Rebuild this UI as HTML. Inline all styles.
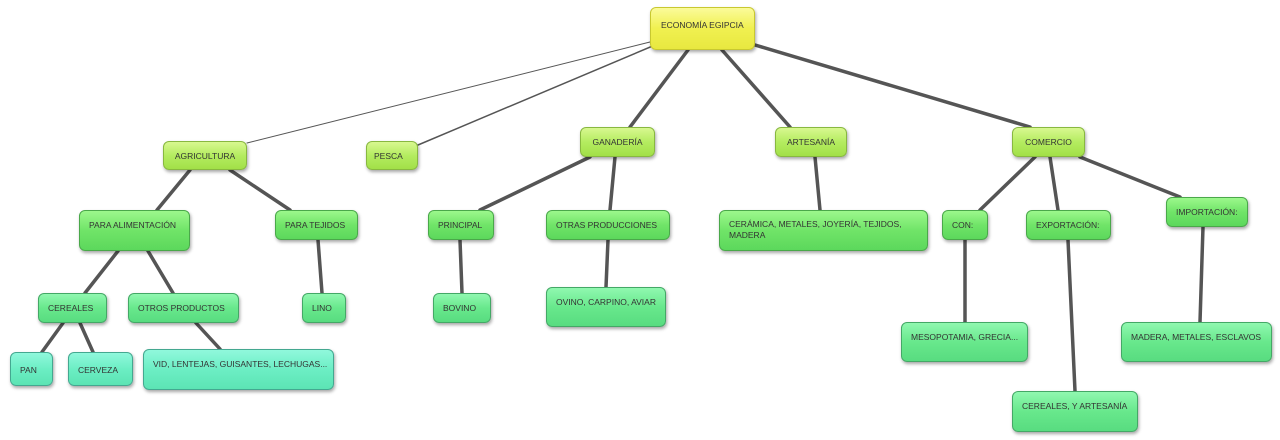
<!DOCTYPE html>
<html><head><meta charset="utf-8"><style>
body{margin:0;width:1280px;height:440px;background:#fff;position:relative;overflow:hidden;font-family:"Liberation Sans",sans-serif}
svg{position:absolute;left:0;top:0}
.b{position:absolute;box-sizing:border-box;border-radius:6px;font-size:8.5px;color:#333;padding:9px 0 0 9px;white-space:nowrap;box-shadow:1px 2px 3px rgba(0,0,0,.35)}
.y{background:linear-gradient(#fbfb9a,#f0f050 50%,#e8e840);border:1px solid #c8c830}
.l{background:linear-gradient(#d8f890,#b4ec60 50%,#a2e048);border:1px solid #88b840;text-align:center;padding-left:0}
.g{background:linear-gradient(#9cf88c,#70e468 50%,#5cd85c);border:1px solid #4aa84a}
.m{background:linear-gradient(#90f8b0,#68e88c 50%,#58dc80);border:1px solid #44a866}
.t{background:linear-gradient(#90f8dc,#6ceec4 50%,#5ce4b4);border:1px solid #44a890}
</style></head><body>
<svg width="1280" height="440" stroke="#555" stroke-linecap="round">
<line x1="650" y1="42" x2="247" y2="143" stroke-width="1"/>
<line x1="655" y1="45" x2="418" y2="145" stroke-width="1.5"/>
<g stroke-width="3.5">
<line x1="688" y1="50" x2="630" y2="127"/>
<line x1="722" y1="50" x2="790" y2="127"/>
<line x1="755" y1="45" x2="1030" y2="127"/>
<line x1="190" y1="170" x2="157" y2="210"/>
<line x1="230" y1="170" x2="290" y2="210"/>
<line x1="118" y1="251" x2="85" y2="293"/>
<line x1="148" y1="251" x2="173" y2="293"/>
<line x1="63" y1="323" x2="42" y2="352"/>
<line x1="80" y1="323" x2="93" y2="352"/>
<line x1="196" y1="323" x2="220" y2="349"/>
<line x1="318" y1="240" x2="322" y2="293"/>
<line x1="590" y1="157" x2="480" y2="210"/>
<line x1="615" y1="157" x2="610" y2="210"/>
<line x1="460" y1="240" x2="462" y2="293"/>
<line x1="608" y1="240" x2="606" y2="287"/>
<line x1="815" y1="157" x2="820" y2="210"/>
<line x1="1035" y1="157" x2="980" y2="210"/>
<line x1="1050" y1="157" x2="1058" y2="210"/>
<line x1="1080" y1="157" x2="1180" y2="197"/>
<line x1="965" y1="240" x2="965" y2="322"/>
<line x1="1068" y1="240" x2="1075" y2="391"/>
<line x1="1203" y1="227" x2="1200" y2="322"/>
</g></svg>
<div class="b y" style="left:650px;top:7px;width:105px;height:43px;padding:12px 0 0 10px">ECONOMÍA EGIPCIA</div>
<div class="b l" style="left:163px;top:141px;width:84px;height:29px">AGRICULTURA</div>
<div class="b l" style="left:366px;top:141px;width:52px;height:29px;text-align:left;padding-left:7px">PESCA</div>
<div class="b l" style="left:580px;top:127px;width:75px;height:30px">GANADERÍA</div>
<div class="b l" style="left:775px;top:127px;width:72px;height:30px">ARTESANÍA</div>
<div class="b l" style="left:1012px;top:127px;width:73px;height:30px">COMERCIO</div>
<div class="b g" style="left:79px;top:210px;width:111px;height:41px">PARA ALIMENTACIÓN</div>
<div class="b g" style="left:275px;top:210px;width:83px;height:30px">PARA TEJIDOS</div>
<div class="b g" style="left:428px;top:210px;width:66px;height:30px">PRINCIPAL</div>
<div class="b g" style="left:546px;top:210px;width:124px;height:30px">OTRAS PRODUCCIONES</div>
<div class="b g" style="left:719px;top:210px;width:209px;height:41px;white-space:normal;line-height:11px;padding-top:8px">CERÁMICA, METALES, JOYERÍA, TEJIDOS, MADERA</div>
<div class="b g" style="left:942px;top:210px;width:46px;height:30px">CON:</div>
<div class="b g" style="left:1026px;top:210px;width:85px;height:30px">EXPORTACIÓN:</div>
<div class="b g" style="left:1166px;top:197px;width:82px;height:30px">IMPORTACIÓN:</div>
<div class="b m" style="left:38px;top:293px;width:69px;height:30px">CEREALES</div>
<div class="b m" style="left:128px;top:293px;width:111px;height:30px">OTROS PRODUCTOS</div>
<div class="b m" style="left:302px;top:293px;width:44px;height:30px">LINO</div>
<div class="b m" style="left:433px;top:293px;width:58px;height:30px">BOVINO</div>
<div class="b m" style="left:546px;top:287px;width:120px;height:40px">OVINO, CARPINO, AVIAR</div>
<div class="b m" style="left:901px;top:322px;width:127px;height:40px">MESOPOTAMIA, GRECIA...</div>
<div class="b m" style="left:1121px;top:322px;width:151px;height:40px">MADERA, METALES, ESCLAVOS</div>
<div class="b m" style="left:1012px;top:391px;width:126px;height:41px">CEREALES, Y ARTESANÍA</div>
<div class="b t" style="left:10px;top:352px;width:43px;height:34px;padding-top:12px">PAN</div>
<div class="b t" style="left:68px;top:352px;width:65px;height:34px;padding-top:12px">CERVEZA</div>
<div class="b t" style="left:143px;top:349px;width:191px;height:41px">VID, LENTEJAS, GUISANTES, LECHUGAS...</div>
</body></html>
